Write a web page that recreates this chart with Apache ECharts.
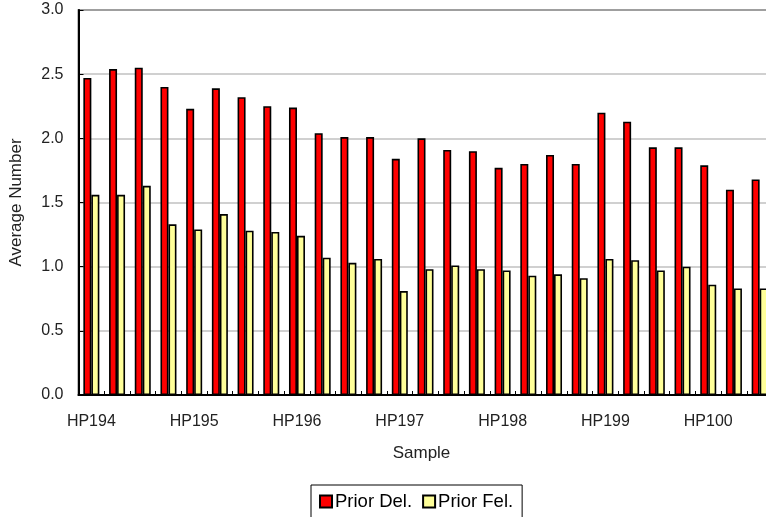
<!DOCTYPE html>
<html>
<head>
<meta charset="utf-8">
<script src="https://cdn.jsdelivr.net/npm/echarts@6/dist/echarts.min.js"></script>
<style>
html,body{margin:0;padding:0;background:#fff;}
#chart{width:766px;height:517px;}
</style>
</head>
<body>
<div id="chart"></div>
<script>
var categories = [
  "HP194","HP194 b","HP194 c","HP194 d",
  "HP195","HP195 b","HP195 c","HP195 d",
  "HP196","HP196 b","HP196 c","HP196 d",
  "HP197","HP197 b","HP197 c","HP197 d",
  "HP198","HP198 b","HP198 c","HP198 d",
  "HP199","HP199 b","HP199 c","HP199 d",
  "HP100","HP100 b","HP100 c"
];
var priorDel = [2.47,2.54,2.55,2.40,2.23,2.39,2.32,2.25,2.24,2.04,2.01,2.01,1.84,2.00,1.91,1.90,1.77,1.80,1.87,1.80,2.20,2.13,1.93,1.93,1.79,1.60,1.68];
var priorFel = [1.56,1.56,1.63,1.33,1.29,1.41,1.28,1.27,1.24,1.07,1.03,1.06,0.81,0.98,1.01,0.98,0.97,0.93,0.94,0.91,1.06,1.05,0.97,1.00,0.86,0.83,0.83];
var yTicks = {min:0, max:3, interval:0.5};

var chart = echarts.init(document.getElementById('chart'), null, {renderer:'canvas'});
var font = 'Liberation Sans, Arial, sans-serif';
chart.setOption({
  animation:false,
  backgroundColor:'#ffffff',
  grid:{left:78.5, top:10, width:694, height:385, show:true, borderColor:'#000', borderWidth:1.5,
    backgroundColor:'transparent', containLabel:false, outerBoundsMode:'none'},
  legend:{
    data:['Prior Del.','Prior Fel.'],
    left:311, top:485,
    orient:'horizontal',
    borderColor:'#000', borderWidth:1, borderRadius:0,
    padding:[7,9,12,8],
    itemWidth:12, itemHeight:12, itemGap:10,
    icon:'rect',
    textStyle:{fontFamily:font, fontSize:18.5, color:'#000', padding:[0,0,0,-2]}
  },
  xAxis:{
    type:'category',
    data:categories,
    boundaryGap:true,
    name:'Sample',
    nameLocation:'middle',
    nameGap:50,
    nameTextStyle:{fontFamily:font, fontSize:17, color:'#222', padding:[0,8,0,0]},
    axisLine:{show:true, lineStyle:{color:'#000', width:2}},
    axisTick:{show:true, inside:true, length:4, interval:0, lineStyle:{color:'#000', width:1}},
    axisLabel:{interval:3, fontFamily:font, fontSize:16, color:'#222', margin:19},
    splitLine:{show:false}
  },
  yAxis:{
    type:'value',
    min:yTicks.min, max:yTicks.max, interval:yTicks.interval,
    name:'Average Number',
    nameLocation:'middle',
    nameGap:54,
    nameTextStyle:{fontFamily:font, fontSize:17, color:'#222'},
    axisLine:{show:true, lineStyle:{color:'#000', width:2}},
    axisTick:{show:true, inside:true, length:5, lineStyle:{color:'#000', width:1}},
    axisLabel:{fontFamily:font, fontSize:16, color:'#222', margin:15,
      formatter:function(v){return v.toFixed(1);}},
    splitLine:{show:true, lineStyle:{color:'#c0c0c0', width:1.5}}
  },
  series:[
    {name:'Prior Del.', type:'bar', data:priorDel, barWidth:8, barGap:'0%',
      itemStyle:{color:'#ff0000', borderColor:'#000', borderWidth:1.6}},
    {name:'Prior Fel.', type:'bar', data:priorFel, barWidth:8, barGap:'0%',
      itemStyle:{color:'#ffff99', borderColor:'#000', borderWidth:1.6}}
  ]
});
</script>
</body>
</html>
